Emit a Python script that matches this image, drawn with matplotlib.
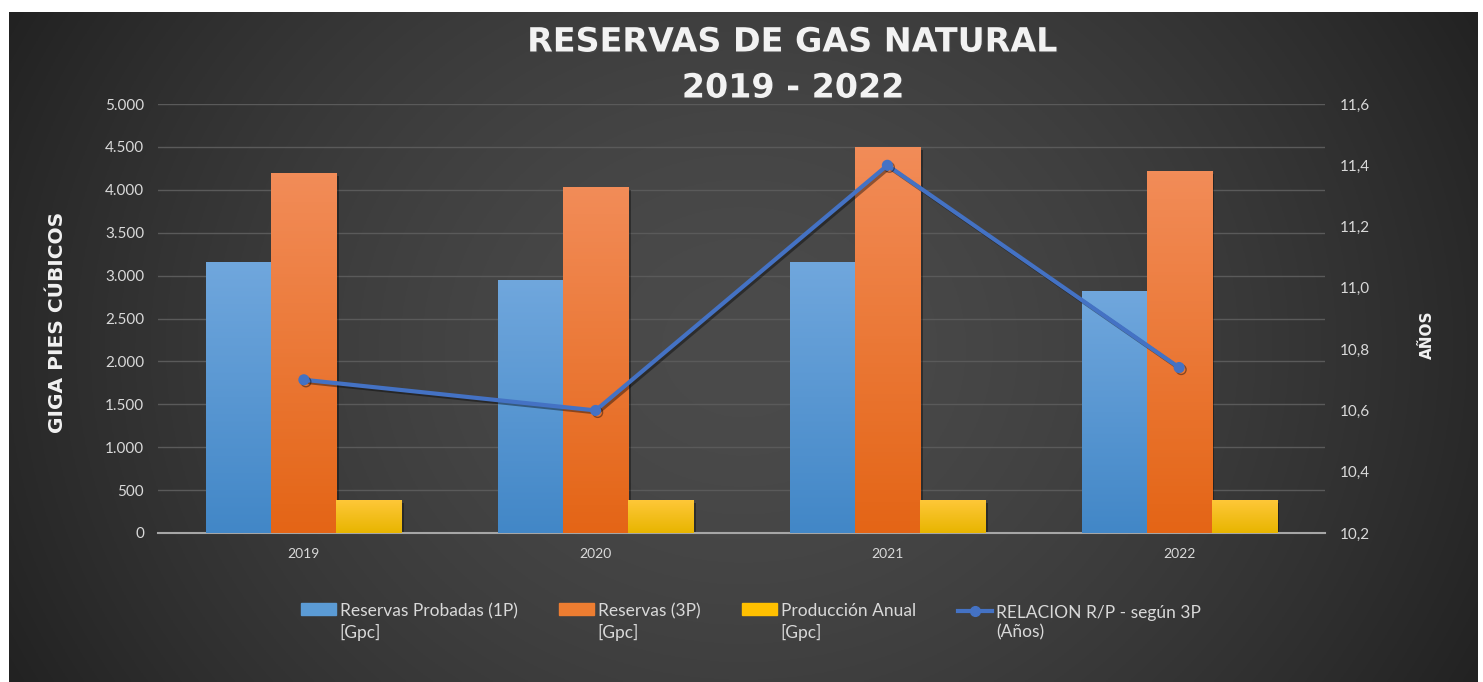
import matplotlib
matplotlib.use("Agg")
import matplotlib.pyplot as plt
import matplotlib.patheffects as pe
from matplotlib.ticker import FuncFormatter, MultipleLocator
from matplotlib.lines import Line2D
from matplotlib.patches import Patch
import numpy as np

years = ["2019", "2020", "2021", "2022"]
reservas_1p = [3160, 2950, 3160, 2820]
reservas_3p = [4190, 4035, 4500, 4220]
produccion = [385, 385, 385, 385]
relacion_rp = [10.70, 10.60, 11.40, 10.74]

labels = ["Reservas Probadas (1P)\n[Gpc]", "Reservas (3P)\n[Gpc]",
          "Producción Anual\n[Gpc]", "RELACION R/P - según 3P\n(Años)"]

W, H = 1483, 682
fig = plt.figure(figsize=(W / 100, H / 100), dpi=100, facecolor="white")

# dark radial background
bg = fig.add_axes([9 / W, 0, (1478 - 9) / W, (H - 12) / H], zorder=-10)
gx, gy = np.meshgrid(np.linspace(-1, 1, 600), np.linspace(-1, 1, 300))
r = np.sqrt((gx / 1.0) ** 2 + (gy / 1.9) ** 2)
r = np.clip(r / r.max(), 0, 1)
v = 0x4b / 255 - (0x4b - 0x22) / 255 * r ** 1.6
bg.imshow(np.dstack([v, v, v]), aspect="auto", extent=(0, 1, 0, 1))
bg.set_axis_off()

ax = fig.add_axes([158 / W, (H - 533) / H, (1325 - 158) / W, (533 - 104) / H])
ax.patch.set_visible(False)
ax2 = ax.twinx()

x = np.arange(len(years))
bw = 0.223
series = [
    (reservas_1p, -bw, ("#70a7dd", "#4287c7")),
    (reservas_3p, 0.0, ("#f28c58", "#e46516")),
    (produccion, bw, ("#ffc83a", "#e8b500")),
]
shadow = [pe.SimplePatchShadow(offset=(2, -2), shadow_rgbFace="black", alpha=0.35), pe.Normal()]
for vals, off, (c_top, c_bot) in series:
    bars = ax.bar(x + off, vals, width=bw, color=c_bot, zorder=2, path_effects=shadow)
    top = np.array(matplotlib.colors.to_rgb(c_top))
    bot = np.array(matplotlib.colors.to_rgb(c_bot))
    t = np.linspace(0, 1, 100)[:, None]
    grad = (top * (1 - t) + bot * t)[:, None, :]
    for b in bars:
        im = ax.imshow(grad, aspect="auto", zorder=3,
                       extent=(b.get_x(), b.get_x() + b.get_width(), 0, b.get_height()))
        im.set_clip_path(b)

ax.set_xlim(-0.5, len(years) - 0.5)
ax.set_ylim(0, 5000)
ax.yaxis.set_major_locator(MultipleLocator(500))
ax.yaxis.set_major_formatter(FuncFormatter(lambda v, p: f"{int(v):,}".replace(",", ".")))
ax.set_xticks(x)
ax.set_xticklabels(years)
ax.grid(axis="y", color="#5a5a5a", lw=1, zorder=0)
ax.set_axisbelow(True)

ax2.plot(x, relacion_rp, color="#4472c4", lw=3, marker="o", ms=7, zorder=5,
         path_effects=[pe.SimpleLineShadow(offset=(1.5, -1.5), alpha=0.4), pe.Normal()])
ax2.set_ylim(10.2, 11.6)
ax2.yaxis.set_major_locator(MultipleLocator(0.2))
ax2.yaxis.set_major_formatter(FuncFormatter(lambda v, p: f"{v:.1f}".replace(".", ",")))

for a in (ax, ax2):
    for s in a.spines.values():
        s.set_visible(False)
    a.tick_params(length=0, colors="#d9d9d9", labelsize=11)
    for lab in a.get_yticklabels() + a.get_xticklabels():
        lab.set_family("Lato")
ax.spines["bottom"].set_visible(True)
ax.spines["bottom"].set_color("#a6a6a6")
ax.spines["bottom"].set_linewidth(1.5)
ax.tick_params(axis="y", pad=10)
ax.tick_params(axis="x", pad=11, labelsize=10)
ax2.tick_params(axis="y", pad=11)

ax.set_ylabel("GIGA PIES CÚBICOS", color="#f2f2f2", fontsize=14.5, fontweight="bold", va="center")
ax.yaxis.set_label_coords(-0.0865, 0.49)
ax2.set_ylabel("AÑOS", color="#f2f2f2", fontsize=11, fontweight="bold", rotation=90, va="center")
ax2.yaxis.set_label_coords(1.088, 0.461)

fig.text(793 / W, 1 - 65 / H, "RESERVAS DE GAS NATURAL\n2019 - 2022", ha="center", va="center",
         color="#f2f2f2", fontsize=24, fontweight="bold", linespacing=1.5,
         path_effects=[pe.withSimplePatchShadow(offset=(1, -1), alpha=0.5)])

handles = [Patch(color="#5b9bd5"), Patch(color="#ed7d31"), Patch(color="#ffc000"),
           Line2D([], [], color="#4472c4", lw=3, marker="o", ms=7)]
leg = fig.legend(handles, labels, loc="center", bbox_to_anchor=(751 / W, 1 - 622 / H), ncol=4,
                 frameon=False, labelcolor="#d9d9d9", handlelength=2.0, handleheight=0.63,
                 handletextpad=0.23, columnspacing=2.4, labelspacing=0.3,
                 prop={"family": "Lato", "size": 12.5})
# put the handle level with the first line of each two-line label
for col in leg._legend_handle_box.get_children():
    for item in col.get_children():
        item.align = "top"
for txt in leg.get_texts():
    txt.set_linespacing(1.3)

fig.savefig("out.png", dpi=100, facecolor=fig.get_facecolor())
